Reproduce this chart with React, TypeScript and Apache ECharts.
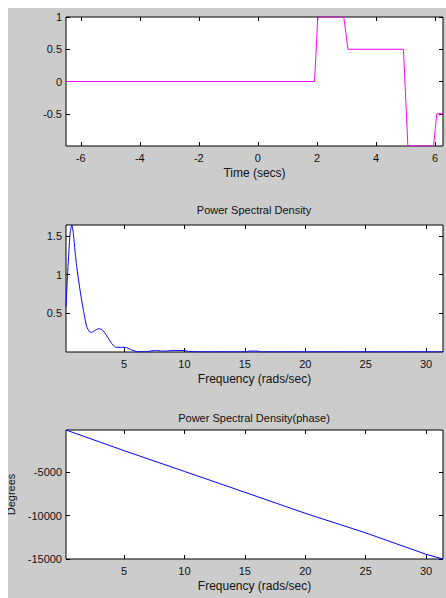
import React, { useEffect, useRef } from "react";
import * as echarts from "echarts";

// Plot 1: time-domain signal
const timeSecs = [-6.5, 1.92, 2.03, 2.91, 3.05, 4.93, 5.08, 5.95, 6.06, 6.27];
const signal = [0, 0, 1, 1, 0.5, 0.5, -1, -1, -0.5, -0.5];
const timeTicks = [-6, -4, -2, 0, 2, 4, 6];
const signalTicks = [-0.5, 0, 0.5, 1];

// Plot 2: power spectral density (magnitude)
const freqPsd = [
  0.2, 0.25, 0.4, 0.55, 0.68, 0.81, 0.95, 1.09, 1.36, 1.64, 1.91, 2.15, 2.33,
  2.6, 2.9, 3.15, 3.4, 3.57, 3.98, 4.2, 4.39, 5.0, 5.22, 5.63, 6.18, 6.87, 7.3,
  7.7, 8.1, 8.52, 9.07, 9.9, 10.45, 11.3, 15.1, 15.4, 16.0, 16.3, 31.4,
];
const psd = [
  0.58, 0.75, 1.2, 1.55, 1.64, 1.53, 1.3, 1.1, 0.8, 0.54, 0.33, 0.26, 0.255,
  0.28, 0.3, 0.29, 0.25, 0.21, 0.11, 0.07, 0.06, 0.06, 0.055, 0.027, 0.003,
  0.005, 0.015, 0.02, 0.012, 0.013, 0.02, 0.02, 0.006, 0.002, 0.002, 0.012,
  0.012, 0.002, 0.002,
];
const freqTicks = [5, 10, 15, 20, 25, 30];
const psdTicks = [0.5, 1, 1.5];

// Plot 3: power spectral density (phase)
const freqPhase = [0.2, 5, 10, 15, 20, 25, 30, 31.4];
const phaseDeg = [-96, -2480, -4880, -7290, -9720, -11980, -14460, -15000];
const phaseTicks = [-15000, -10000, -5000];

const FONT = "'Liberation Sans', Arial, Helvetica, sans-serif";
const BLACK = "#000";
const TEXT = "#111";

const grids = [
  { left: 58, top: 9, width: 377, height: 129 },
  { left: 58, top: 217, width: 377, height: 127 },
  { left: 58, top: 422, width: 377, height: 129 },
];

function tickStyle(ticks: number[]) {
  return {
    show: true,
    inside: true,
    length: 4,
    lineStyle: { color: BLACK, width: 1 },
    customValues: ticks,
  };
}

function xAxes(gridIndex: number, min: number, max: number, ticks: number[], name: string) {
  return [
    {
      type: "value",
      gridIndex,
      min,
      max,
      position: "bottom",
      axisLine: { show: false, onZero: false },
      splitLine: { show: false },
      axisTick: tickStyle(ticks),
      axisLabel: {
        customValues: ticks,
        margin: 6,
        fontSize: 11,
        fontFamily: FONT,
        color: TEXT,
        formatter: (v: number) => String(v),
      },
      name,
      nameLocation: "middle",
      nameGap: 21,
      nameTextStyle: { fontSize: 12, fontFamily: FONT, color: TEXT },
    },
    {
      type: "value",
      gridIndex,
      min,
      max,
      position: "top",
      axisLine: { show: false, onZero: false },
      splitLine: { show: false },
      axisTick: tickStyle(ticks),
      axisLabel: { show: false },
    },
  ];
}

function yAxes(gridIndex: number, min: number, max: number, ticks: number[], name?: string) {
  const left: any = {
    type: "value",
    gridIndex,
    min,
    max,
    position: "left",
    axisLine: { show: false, onZero: false },
    splitLine: { show: false },
    axisTick: tickStyle(ticks),
    axisLabel: {
      customValues: ticks,
      margin: 4,
      fontSize: 11,
      fontFamily: FONT,
      color: TEXT,
      formatter: (v: number) => String(v),
    },
  };
  if (name) {
    left.name = name;
    left.nameLocation = "middle";
    left.nameRotate = 90;
    left.nameGap = 43;
    left.nameTextStyle = { fontSize: 11, fontFamily: FONT, color: TEXT };
  }
  return [
    left,
    {
      type: "value",
      gridIndex,
      min,
      max,
      position: "right",
      axisLine: { show: false, onZero: false },
      splitLine: { show: false },
      axisTick: tickStyle(ticks),
      axisLabel: { show: false },
    },
  ];
}

export default function App() {
  const ref = useRef<HTMLDivElement>(null);
  useEffect(() => {
    if (!ref.current) return;
    const chart = echarts.init(ref.current, undefined, { renderer: "svg" });
    const zip = (xs: number[], ys: number[]) => xs.map((x, i) => [x, ys[i]]);
    chart.setOption({
      animation: false,
      backgroundColor: "#cccccc",
      grid: grids.map((g) => ({
        ...g,
        show: true,
        backgroundColor: "#ffffff",
        borderColor: BLACK,
        borderWidth: 1,
        containLabel: false,
        outerBoundsMode: "none",
      })),
      xAxis: [
        ...xAxes(0, -6.5, 6.27, timeTicks, "Time (secs)"),
        ...xAxes(1, 0.2, 31.4, freqTicks, "Frequency (rads/sec)"),
        ...xAxes(2, 0.2, 31.4, freqTicks, "Frequency (rads/sec)"),
      ],
      yAxis: [
        ...yAxes(0, -1, 1, signalTicks),
        ...yAxes(1, 0, 1.64, psdTicks),
        ...yAxes(2, -15000, -96, phaseTicks, "Degrees"),
      ],
      graphic: [
        {
          type: "text",
          x: 246,
          y: 202,
          style: {
            text: "Power Spectral Density",
            align: "center",
            verticalAlign: "middle",
            font: `11px ${FONT}`,
            fill: TEXT,
          },
        },
        {
          type: "text",
          x: 246,
          y: 410,
          style: {
            text: "Power Spectral Density(phase)",
            align: "center",
            verticalAlign: "middle",
            font: `11px ${FONT}`,
            fill: TEXT,
          },
        },
      ],
      series: [
        {
          type: "line",
          xAxisIndex: 0,
          yAxisIndex: 0,
          data: zip(timeSecs, signal),
          showSymbol: false,
          lineStyle: { color: "#ff00ff", width: 1 },
          itemStyle: { color: "#ff00ff" },
        },
        {
          type: "line",
          xAxisIndex: 2,
          yAxisIndex: 2,
          data: zip(freqPsd, psd),
          showSymbol: false,
          smooth: 0.2,
          lineStyle: { color: "#0000ff", width: 1 },
          itemStyle: { color: "#0000ff" },
        },
        {
          type: "line",
          xAxisIndex: 4,
          yAxisIndex: 4,
          data: zip(freqPhase, phaseDeg),
          showSymbol: false,
          lineStyle: { color: "#0000ff", width: 1 },
          itemStyle: { color: "#0000ff" },
        },
      ],
    });
    return () => chart.dispose();
  }, []);
  return (
    <div
      ref={ref}
      style={{ position: "fixed", left: 8, top: 8, width: 438, height: 590 }}
    />
  );
}
